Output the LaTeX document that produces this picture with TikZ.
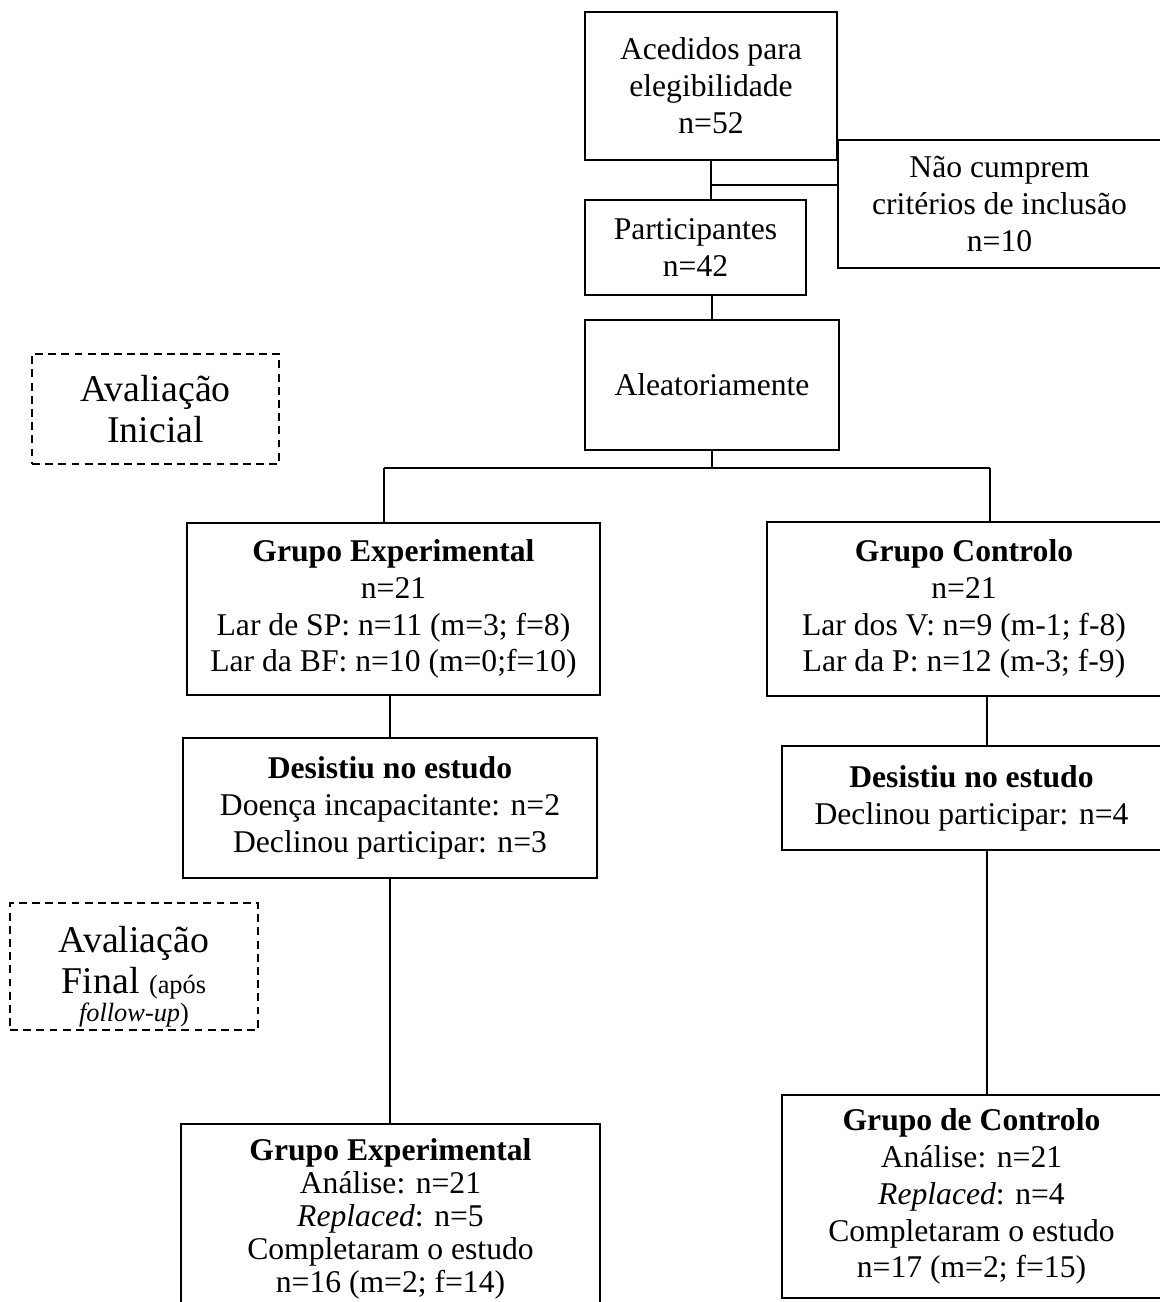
\documentclass[tikz,border=0pt]{standalone}
\usepackage{fontspec}
\setmainfont{Liberation Serif}
\begin{document}
\begin{tikzpicture}[
    every node/.style={font=\fontsize{18}{21}\selectfont},
    box/.style={draw, line width=1.1pt, align=center, inner sep=3pt},
    evalbox/.style={draw, dash pattern=on 4.5pt off 3pt, line width=1.1pt, align=center,
                    inner sep=3pt, font=\fontsize{21.5}{23.5}\selectfont},
    link/.style={line width=0.7pt},
]
\useasboundingbox (0,0) rectangle (23.18,-26.04);

% ── Elegibilidade ──
\node[box, minimum width=5.04cm, minimum height=2.96cm] (acc) at (14.22,-1.72)
    {Acedidos para\\elegibilidade\\n=52};
\node[box, minimum width=6.46cm, minimum height=2.56cm] (excl) at (19.99,-4.08)
    {Não cumprem\\critérios de inclusão\\n=10};
\node[box, minimum width=4.42cm, minimum height=1.90cm] (part) at (13.91,-4.95)
    {Participantes\\n=42};
\node[box, minimum width=5.08cm, minimum height=2.60cm] (rand) at (14.24,-7.70)
    {Aleatoriamente};

% ── Momentos de avaliação ──
\node[evalbox, minimum width=4.94cm, minimum height=2.2cm] (ini) at (3.11,-8.18)
    {Avaliação\\Inicial};
\node[evalbox, minimum width=4.96cm, minimum height=2.54cm] (fin) at (2.68,-19.33)
    {\raisebox{-12pt}[0pt][0pt]{\begin{tabular}{@{}c@{}}Avaliação\\
     Final {\fontsize{15}{17}\selectfont(após}\\[-8pt]
     {\fontsize{15}{17}\selectfont\textit{follow-up})}\end{tabular}}};

% ── Grupos ──
\node[box, minimum width=8.26cm, minimum height=3.44cm] (ge) at (7.87,-12.18)
    {\textbf{Grupo Experimental}\\n=21\\Lar de SP: n=11 (m=3; f=8)\\Lar da BF: n=10 (m=0;f=10)};
\node[box, minimum width=7.88cm, minimum height=3.48cm] (gc) at (19.28,-12.18)
    {\textbf{Grupo Controlo}\\n=21\\Lar dos V: n=9 (m-1; f-8)\\Lar da P: n=12 (m-3; f-9)};

% ── Desistências ──
\node[box, minimum width=8.28cm, minimum height=2.8cm] (quitE) at (7.80,-16.16)
    {\textbf{Desistiu no estudo}\\Doença incapacitante: n=2\\Declinou participar: n=3};
\node[box, minimum width=7.58cm, minimum height=2.08cm] (quitC) at (19.43,-15.96)
    {\textbf{Desistiu no estudo}\\Declinou participar: n=4};

% ── Análise final ──
\node[box, minimum width=8.38cm, minimum height=3.80cm, anchor=north,
      font=\fontsize{18}{18.7}\selectfont] (geF) at (7.81,-22.46)
    {\textbf{Grupo Experimental}\\Análise: n=21\\\textit{Replaced}: n=5\\Completaram o estudo\\n=16 (m=2; f=14)};
\node[box, minimum width=7.58cm, minimum height=4.06cm] (gcF) at (19.43,-23.93)
    {\textbf{Grupo de Controlo}\\Análise: n=21\\\textit{Replaced}: n=4\\Completaram o estudo\\n=17 (m=2; f=15)};

% ── Ligações ──
\coordinate (split) at (14.22,-3.70);
\draw[link] (acc.south) -- (acc.south |- part.north);
\draw[link] (split) -- (split -| excl.west);
\draw[link] (part.south -| rand.north) -- (rand.north);
% ramificação aleatória
\coordinate (forkL) at (7.68,-9.36);
\coordinate (forkR) at (19.80,-9.36);
\draw[link] (rand.south) -- (rand.south |- forkL);
\draw[link] (forkL) -- (forkR);
\draw[link] (forkL) -- (forkL |- ge.north);
\draw[link] (forkR) -- (forkR |- gc.north);
% grupos -> desistências -> final
\draw[link] (quitE.north |- ge.south) -- (quitE.north);
\draw[link] (19.74,0 |- gc.south) -- (19.74,0 |- quitC.north);
\draw[link] (quitE.south) -- (quitE.south |- geF.north);
\draw[link] (19.74,0 |- quitC.south) -- (19.74,0 |- gcF.north);
\end{tikzpicture}
\end{document}
